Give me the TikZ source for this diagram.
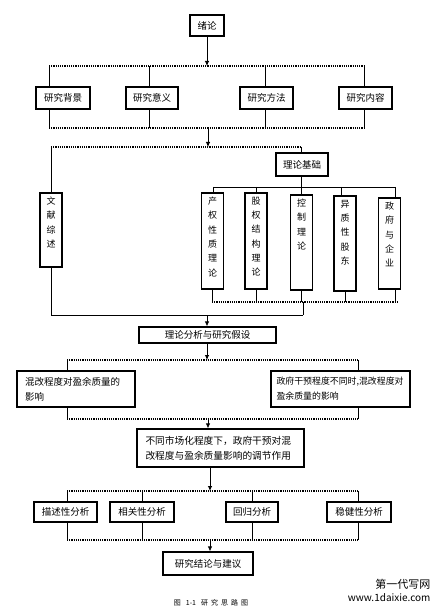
\documentclass[tikz,border=0pt]{standalone}
\usepackage{fontspec}
\setmainfont{Noto Sans CJK SC}
\usepackage{tikz}
\usetikzlibrary{arrows.meta}
\newcommand{\vtext}[2]{\parbox[c][#1][t]{10pt}{\centering\fontsize{9}{14.3}\selectfont\vspace*{4pt}#2}}
\tikzstyle{novertex} = [draw=none, fill=none, text centered]
\tikzstyle{block} = [rectangle, draw, line width=1.2pt, text centered, inner sep=0pt, font=\fontsize{9.5}{11}\selectfont]
\tikzstyle{vblock} = [rectangle, draw, line width=1.2pt, inner xsep=6pt, inner ysep=0pt]
\tikzstyle{tblock} = [rectangle, draw, line width=1.2pt, align=left, inner ysep=0pt, font=\fontsize{9.5}{15}\selectfont]
\tikzstyle{bus}  = [draw, line width=1.2pt, densely dotted]
\tikzstyle{edge} = [draw, line width=0.8pt]
\tikzstyle{high} = [draw, line width=0.8pt, -{Latex[length=5pt,width=4.5pt]}]

\begin{document}
\begin{tikzpicture}[x=1pt, y=-1pt]
	\useasboundingbox (0,0) rectangle (444,612);

	% title node
	\node [block, minimum width=34pt, minimum height=21pt] (N0) at (207,25.5) {绪论};

	% place nodes
	\node [block, minimum width=54pt, minimum height=22pt] (N1) at (63,98)    {研究背景};
	\node [block, minimum width=52pt, minimum height=22pt] (N2) at (152,98)   {研究意义};
	\node [block, minimum width=53pt, minimum height=22pt] (N3) at (266.5,98) {研究方法};
	\node [block, minimum width=53pt, minimum height=22pt] (N4) at (365.5,98) {研究内容};

	\node [vblock] (N5) at (51,230)      {\vtext{74pt}{文\\献\\综\\述}};
	\node [block, minimum width=52pt, minimum height=23pt] (N6) at (302,164.5) {理论基础};
	\node [vblock] (N7)  at (212.5,241)   {\vtext{96pt}{产\\权\\性\\质\\理\\论}};
	\node [vblock] (N8)  at (256,241)     {\vtext{96pt}{股\\权\\结\\构\\理\\论}};
	\node [vblock] (N9)  at (301.5,242.5) {\vtext{95pt}{控\\制\\理\\论}};
	\node [vblock] (N10) at (345,243.5)   {\vtext{95pt}{异\\质\\性\\股\\东}};
	\node [vblock] (N11) at (389.5,243.5) {\vtext{91pt}{政\\府\\与\\企\\业}};

	\node [block, minimum width=137pt, minimum height=16pt] (N12) at (207.5,335) {理论分析与研究假设};
	\node [tblock, text width=102pt, inner xsep=8pt, minimum height=36pt] (N13) at (76,389) {混改程度对盈余质量的\\影响};
	\node [tblock, text width=128pt, inner xsep=5.5pt, minimum height=36pt, font=\fontsize{8.9}{15}\selectfont] (N14) at (340.5,389) {政府干预程度不同时,混改程度对\\盈余质量的影响};
	\node [tblock, text width=150pt, inner xsep=8.5pt, minimum height=38pt, font=\fontsize{9.7}{15}\selectfont] (N15) at (220.5,448) {不同市场化程度下，政府干预对混\\改程度与盈余质量影响的调节作用};

	\node [block, minimum width=63pt, minimum height=20pt] (N16) at (65.5,512) {描述性分析};
	\node [block, minimum width=64pt, minimum height=20pt] (N17) at (142,512)  {相关性分析};
	\node [block, minimum width=52pt, minimum height=20pt] (N18) at (252,512)  {回归分析};
	\node [block, minimum width=64pt, minimum height=20pt] (N19) at (359,512)  {稳健性分析};
	\node [block, minimum width=90pt, minimum height=23pt] (N20) at (208,563.5) {研究结论与建议};

	% caption and mark
	\node [novertex, font=\fontsize{7}{8}\selectfont] (N21) at (211,603) {图\hspace{5pt}1-1\hspace{5pt}研\hspace{3pt}究\hspace{3pt}思\hspace{3pt}路\hspace{3pt}图};
	\node [novertex, anchor=east, font=\fontsize{11}{12}\selectfont] (N22) at (434,584) {第一代写网};
	\node [novertex, anchor=east, font=\fontsize{10}{12}\selectfont] (N23) at (434,598) {www.1daixie.com};

	% bus points
	\coordinate (B1l) at (49,66);   \coordinate (B1r) at (364,66);   \coordinate (B1m) at (207,66);
	\coordinate (B2l) at (49,128);  \coordinate (B2r) at (364,128);  \coordinate (B2m) at (208,128);
	\coordinate (B3l) at (51,147);  \coordinate (B3r) at (301,147);  \coordinate (B3m) at (208,147);
	\coordinate (B4l) at (213,187); \coordinate (B4r) at (395,187);
	\coordinate (B5l) at (212,302); \coordinate (B5r) at (398,302);  \coordinate (B5m) at (303,302);
	\coordinate (B6l) at (51,315);  \coordinate (B6r) at (303,315);  \coordinate (B6m) at (207,315);
	\coordinate (B7l) at (67,360);  \coordinate (B7r) at (358,360);  \coordinate (B7m) at (207,360);
	\coordinate (B8l) at (67,419);  \coordinate (B8r) at (358,419);  \coordinate (B8m) at (208,419);
	\coordinate (B9l) at (67,491);  \coordinate (B9r) at (358,491);  \coordinate (B9m) at (210,491);
	\coordinate (B10l) at (67,540); \coordinate (B10r) at (358,540); \coordinate (B10m) at (210,540);

	% draw buses
	\path [bus]  (B1l) -- (B1r);
	\path [bus]  (B2l) -- (B2r);
	\path [bus]  (B3l) -- (B3r);
	\path [edge] (B4l) -- (B4r);
	\path [bus]  (B5l) -- (B5r);
	\path [edge] (B6l) -- (B6r);
	\path [bus]  (B7l) -- (B7r);
	\path [bus]  (B8l) -- (B8r);
	\path [bus]  (B9l) -- (B9r);
	\path [bus]  (B10l) -- (B10r);

	% draw edges
	\path [high] (N0) -- (B1m);
	\path [edge] (N1.north -| B1l) -- (B1l);
	\path [edge] ([xshift=-3pt]N2.north) -- ([xshift=-3pt]N2.north |- B1l);
	\path [edge] ([xshift=-1.5pt]N3.north) -- ([xshift=-1.5pt]N3.north |- B1l);
	\path [edge] (N4.north -| B1r) -- (B1r);
	\path [edge] (N1.south -| B2l) -- (B2l);
	\path [edge] ([xshift=-3pt]N2.south) -- ([xshift=-3pt]N2.south |- B2l);
	\path [edge] ([xshift=-1.5pt]N3.south) -- ([xshift=-1.5pt]N3.south |- B2l);
	\path [edge] (N4.south -| B2r) -- (B2r);
	\path [high] (B2m) -- (B3m);

	\path [edge] (B3l) -- (N5.north);
	\path [edge] (B3r) -- (N6.north -| B3r);
	\path [edge] (N6.south -| B3r) -- (B3r |- B4l);
	\path [edge] (B4l) -- (N7.north -| B4l);
	\path [edge] (N8.north |- B4l) -- (N8.north);
	\path [edge] (N9.north |- B4l) -- (N9.north);
	\path [edge] ([xshift=-4pt]N10.north |- B4l) -- ([xshift=-4pt]N10.north);
	\path [edge] (B4r) -- (N11.north -| B4r);
	\path [edge] (N7.south -| B5l) -- (B5l);
	\path [edge] (N8.south) -- (N8.south |- B5l);
	\path [edge] (N9.south) -- (N9.south |- B5l);
	\path [edge] (N10.south) -- (N10.south |- B5l);
	\path [edge] (N11.south -| B4r) -- (B4r |- B5l);
	\path [edge] (B5m) -- (B6r);
	\path [edge] (N5.south) -- (B6l);
	\path [high] (B6m) -- (N12.north -| B6m);

	\path [high] (N12.south -| B7m) -- (B7m);
	\path [edge] (B7l) -- (N13.north -| B7l);
	\path [edge] (B7r) -- (N14.north -| B7r);
	\path [edge] (N13.south -| B8l) -- (B8l);
	\path [edge] (N14.south -| B8r) -- (B8r);
	\path [high] (B8m) -- (N15.north -| B8m);

	\path [high] (N15.south -| B9m) -- (B9m);
	\path [edge] (B9l) -- (N16.north -| B9l);
	\path [edge] (N17.north |- B9l) -- (N17.north);
	\path [edge] (N18.north |- B9l) -- (N18.north);
	\path [edge] (B9r) -- (N19.north -| B9r);
	\path [edge] (N16.south -| B10l) -- (B10l);
	\path [edge] (N17.south) -- (N17.south |- B10l);
	\path [edge] (N18.south) -- (N18.south |- B10l);
	\path [edge] (N19.south -| B10r) -- (B10r);
	\path [high] (B10m) -- (N20.north -| B10m);
\end{tikzpicture}
\end{document}
